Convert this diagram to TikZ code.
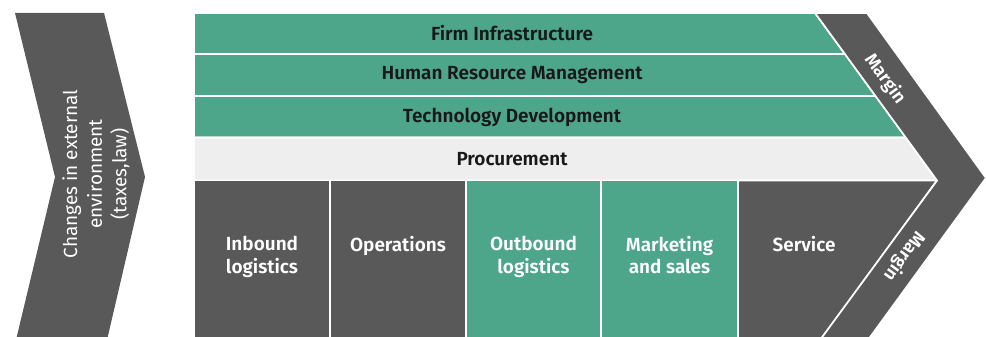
\documentclass[tikz,border=0pt]{standalone}
\usepackage{fontspec}
\setmainfont{Fira Sans}[BoldFont={Fira Sans SemiBold}]
\usepackage{tikz}
\usetikzlibrary{positioning}

\definecolor{vcgreen}{RGB}{77,165,138}
\definecolor{vcdark}{RGB}{89,89,89}
\definecolor{vclight}{RGB}{238,238,238}
\definecolor{vcink}{RGB}{24,24,24}

\tikzset{
  band/.style={draw=white, line width=1pt},
  supportlabel/.style={font=\fontsize{10.8}{13}\selectfont\bfseries, text=vcink, inner sep=0pt},
  primarylabel/.style={font=\fontsize{10.8}{13}\selectfont\bfseries, text=white, align=center, anchor=north, inner sep=0pt},
  marginlabel/.style={font=\fontsize{10.3}{12}\selectfont\bfseries, text=white, inner sep=0pt}
}

\begin{document}
\begin{tikzpicture}[x=0.02cm,y=-0.02cm]
  \useasboundingbox (0,0) rectangle (986,337);

  % external environment
  \fill[vcdark] (15,13) -- (104,13) -- (145,177) -- (107,340) -- (16,340) -- (55,177) -- cycle;
  \draw (96,174) node[rotate=90, align=center, text=white, inner sep=0pt,
     font=\fontsize{10.8}{14}\selectfont] (env) {Changes in external\\environment\\(taxes,law)};

  % support activities
  \draw[band, fill=vcgreen] (194,13) -- (815,13) -- (845,54) -- (194,54) -- cycle;
  \draw[band, fill=vcgreen] (194,54) -- (845,54) -- (875.6,96) -- (194,96) -- cycle;
  \draw[band, fill=vcgreen] (194,96) -- (875.6,96) -- (906,137.5) -- (194,137.5) -- cycle;
  \draw[band, fill=vclight] (194,137.5) -- (906,137.5) -- (937,180.5) -- (194,180.5) -- cycle;
  \draw (512,33) node[supportlabel] (firm) {Firm Infrastructure};
  \draw (512,75) node[supportlabel] (hrm) {Human Resource Management};
  \draw (512,117) node[supportlabel] (tech) {Technology Development};
  \draw (512,159) node[supportlabel] (proc) {Procurement};

  % primary activities
  \draw[band, fill=vcdark] (194,180.5) rectangle (330,345);
  \draw[band, fill=vcdark] (330,180.5) rectangle (466,345);
  \draw[band, fill=vcgreen] (466,180.5) rectangle (601,345);
  \draw[band, fill=vcgreen] (601,180.5) rectangle (738,345);
  \draw[band, fill=vcdark] (738,180.5) -- (937,180.5) -- (817,345) -- (738,345) -- cycle;
  \draw (262,235.5) node[primarylabel] (inbound) {Inbound\\logistics};
  \draw (398,235.5) node[primarylabel] (ops) {Operations};
  \draw (533.5,235.5) node[primarylabel] (outbound) {Outbound\\logistics};
  \draw (669.5,235.5) node[primarylabel] (marketing) {Marketing\\and sales};
  \draw (804,235.5) node[primarylabel] (service) {Service};

  % margin
  \draw[band, fill=vcdark] (815,13) -- (867,13) -- (986,178) -- (868,340) -- (820,340) -- (937,180.5) -- cycle;
  \draw (885,79) node[marginlabel, rotate=-54] (margintop) {Margin};
  \draw (904,256) node[marginlabel, rotate=-126] (marginbot) {Margin};
\end{tikzpicture}
\end{document}
